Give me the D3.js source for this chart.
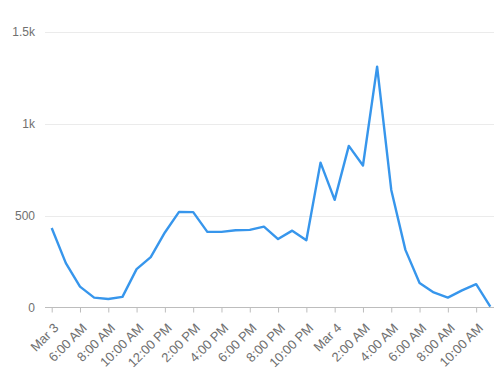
<!DOCTYPE html>
<html>
<head>
<meta charset="utf-8">
<script src="https://cdn.jsdelivr.net/npm/d3@7.9.0/dist/d3.min.js"></script>
<style>
  body { margin: 0; background: #fff; }
  svg { display: block; font-family: "Liberation Sans", Arial, sans-serif; }
  .axis text { fill: #707070; font-size: 12px; }
</style>
</head>
<body>
<svg id="chart" width="494" height="378"></svg>
<script>
// hourly counts, Mar 3 4:00 AM -> Mar 4 11:00 AM
const hours = d3.range(32);
const counts = [432, 241, 113, 53, 45, 57, 208, 274, 408, 520, 519, 411, 411, 420, 422, 440,
  372, 418, 366, 789, 586, 880, 773, 1312, 640, 313, 132, 81, 53, 92, 126, 4];
const tickHours = [0, 2, 4, 6, 8, 10, 12, 14, 16, 18, 20, 22, 24, 26, 28, 30];
const tickLabels = ["Mar 3", "6:00 AM", "8:00 AM", "10:00 AM", "12:00 PM", "2:00 PM", "4:00 PM",
  "6:00 PM", "8:00 PM", "10:00 PM", "Mar 4", "2:00 AM", "4:00 AM", "6:00 AM", "8:00 AM", "10:00 AM"];
const yTicks = [0, 500, 1000, 1500];
const yLabels = ["0", "500", "1k", "1.5k"];

const svg = d3.select("#chart");
const left = 45, right = 494;

const x = d3.scaleLinear().domain([0, 31]).range([51.7, 490.3]);
const y = d3.scaleLinear().domain([0, 1500]).range([307.3, 32.2]);

// grid + y labels
const yAxis = svg.append("g").attr("class", "axis");
yAxis.selectAll("line")
  .data(yTicks.filter((d) => d > 0))
  .join("line")
  .attr("x1", left).attr("x2", right)
  .attr("y1", (d) => Math.round(y(d)) + 0.5).attr("y2", (d) => Math.round(y(d)) + 0.5)
  .attr("stroke", "#ebebeb");
yAxis.selectAll("text")
  .data(yTicks)
  .join("text")
  .attr("x", 35)
  .attr("y", (d) => y(d))
  .attr("dy", "0.35em")
  .attr("text-anchor", "end")
  .text((d, i) => yLabels[i]);

// x axis
const xAxis = svg.append("g")
  .attr("class", "axis")
  .attr("transform", `translate(0,${Math.round(y(0)) + 0.5})`)
  .call(d3.axisBottom(x)
    .tickValues(tickHours)
    .tickFormat((d, i) => tickLabels[i])
    .tickSize(5)
    .tickPadding(3));
xAxis.select(".domain").remove();
xAxis.insert("line", ":first-child")
  .attr("x1", left).attr("x2", right)
  .attr("stroke", "#bdbdbd");
xAxis.selectAll(".tick line").attr("stroke", "#bdbdbd");
xAxis.selectAll(".tick text")
  .style("font-size", "13px")
  .attr("text-anchor", "end")
  .attr("dy", "0.35em")
  .attr("transform", "translate(4,18) rotate(-45)")
  .attr("y", 0);

// line
const line = d3.line()
  .x((d) => x(d))
  .y((d, i) => y(counts[i]));

svg.append("path")
  .datum(hours)
  .attr("fill", "none")
  .attr("stroke", "#3796ec")
  .attr("stroke-width", 2.4)
  .attr("stroke-linejoin", "round")
  .attr("d", line);
</script>
</body>
</html>
